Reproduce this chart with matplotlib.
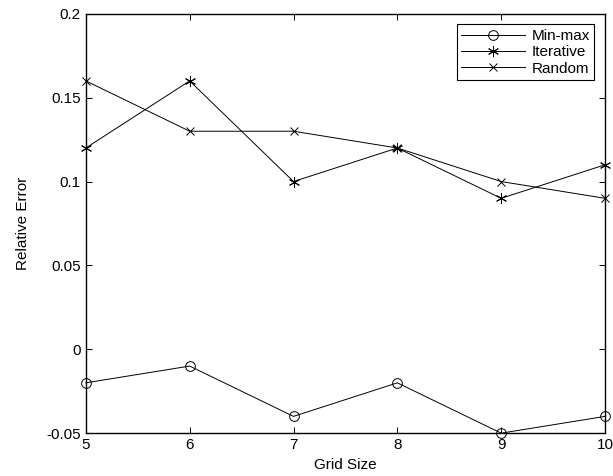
import matplotlib
matplotlib.use("Agg")
import matplotlib.pyplot as plt

grid_size = [5, 6, 7, 8, 9, 10]
minmax = [-0.02, -0.01, -0.04, -0.02, -0.05, -0.04]
iterative = [0.12, 0.16, 0.10, 0.12, 0.09, 0.11]
random_err = [0.16, 0.13, 0.13, 0.12, 0.10, 0.09]
yticks = [-0.05, 0, 0.05, 0.1, 0.15, 0.2]
ytick_labels = ["-0.05", "0", "0.05", "0.1", "0.15", "0.2"]

plt.rcParams['font.family'] = ['Liberation Sans', 'DejaVu Sans']
plt.rcParams['font.size'] = 10

fig = plt.figure(figsize=(6.13, 4.76), dpi=100)
ax = fig.add_axes([0.140, 0.090, 0.847, 0.881])

ax.plot(grid_size, minmax, 'k-', marker='o', mfc='none', ms=7, lw=0.7, mew=0.7, label='Min-max', clip_on=False)
ax.plot(grid_size, iterative, 'k-', marker=(6, 2, 0), ms=8, lw=0.7, mew=0.7, label='Iterative', clip_on=False)
ax.plot(grid_size, random_err, 'k-', marker='x', ms=6, lw=0.7, mew=0.7, label='Random', clip_on=False)

ax.set_xlim(5, 10)
ax.set_ylim(-0.05, 0.2)
ax.set_xticks(grid_size)
ax.set_yticks(yticks)
ax.set_yticklabels(ytick_labels)
ax.tick_params(direction='in', top=True, right=True, length=4, width=0.7, labelsize=11)
for s in ax.spines.values():
    s.set_linewidth(1.0)

ax.set_xlabel('Grid Size', fontsize=11, labelpad=4)
ax.set_ylabel('Relative Error', fontsize=11, labelpad=12)

leg = ax.legend(loc='upper right', fancybox=False, edgecolor='black', framealpha=1,
                fontsize=11, handlelength=4.2, borderaxespad=0.7, labelspacing=0.15,
                borderpad=0.3, handletextpad=0.4)
leg.get_frame().set_linewidth(0.8)

fig.savefig('out.png', dpi=100)
